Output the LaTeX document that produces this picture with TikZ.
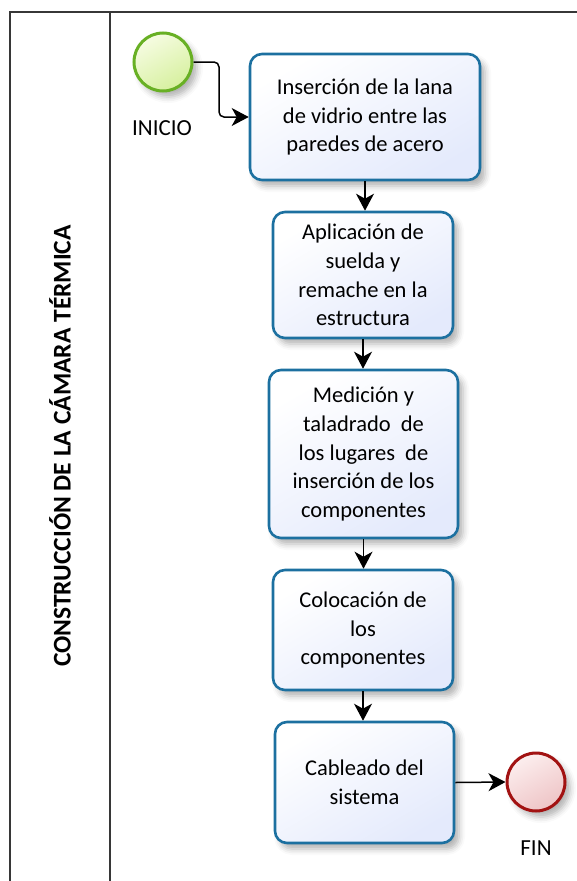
\documentclass[tikz,border=0pt]{standalone}
\usepackage{fontspec}
\setmainfont{Carlito}
\usetikzlibrary{arrows.meta,shadows.blur}
\definecolor{boxborder}{RGB}{28,112,160}
\definecolor{boxfill}{RGB}{228,234,252}
\definecolor{startborder}{RGB}{104,176,36}
\definecolor{startlight}{RGB}{246,252,226}
\definecolor{startfill}{RGB}{214,240,158}
\definecolor{endborder}{RGB}{162,18,18}
\definecolor{endlight}{RGB}{252,238,238}
\definecolor{endfill}{RGB}{238,196,198}
\definecolor{poolline}{RGB}{55,55,55}
\begin{document}
\begin{tikzpicture}[x=1pt,y=-1pt,
  softshadow/.style={blur shadow={shadow xshift=5pt, shadow yshift=-6pt, shadow blur radius=6pt, shadow opacity=30}},
  task/.style={rectangle, draw=boxborder, line width=2.6pt, rounded corners=12pt, align=center,
    font=\fontsize{22.5}{28.8}\selectfont, top color=white, bottom color=boxfill, shading angle=30,
    inner sep=0pt, softshadow},
  event/.style={circle, line width=3pt, minimum size=58pt, inner sep=0pt, softshadow},
  lbl/.style={font=\fontsize{23}{26}\selectfont},
  flow/.style={draw=black, line width=1.5pt, -{Stealth[length=17pt, width=18pt, inset=5pt]}},
  pool/.style={draw=poolline, line width=1.8pt}
]
\useasboundingbox (0,0) rectangle (576,881);
% pool and lane
\draw[pool] (580,12) -- (10,12) -- (10,885);
\draw[pool] (110,12) -- (110,885);
\node[rotate=90, font=\bfseries\fontsize{25.5}{27}\selectfont] (title) at (60,446) {CONSTRUCCIÓN DE LA CÁMARA TÉRMICA};
% events
\node[event, draw=startborder, top color=startlight, bottom color=startfill, shading angle=30] (start) at (163,62) {};
\node[lbl] (startlbl) at (162,128) {INICIO};
\node[event, draw=endborder, top color=endlight, bottom color=endfill, shading angle=30] (end) at (536,782) {};
\node[lbl] (endlbl) at (536,848) {FIN};
% tasks
\node[task, minimum width=230pt, minimum height=126pt] (t1) at (365,117) {Inserción de la lana\\de vidrio entre las\\paredes de acero};
\node[task, minimum width=180pt, minimum height=126pt] (t2) at (363,275) {Aplicación de\\suelda y\\remache en la\\estructura};
\node[task, minimum width=189pt, minimum height=168pt] (t3) at (363.5,454) {Medición y\\taladrado\ \ de\\los lugares\ \ de\\inserción de los\\componentes};
\node[task, minimum width=180pt, minimum height=120pt] (t4) at (363,630) {Colocación de\\los\\componentes};
\node[task, minimum width=179pt, minimum height=121pt] (t5) at (364.5,782.5) {Cableado del\\sistema};
% flows
\coordinate (bend) at (219,117);
\draw[flow, rounded corners=5pt] (start.east) -| (bend) -- (t1.west);
\draw[flow] (t1.south) -- (t1.south |- t2.north);
\draw[flow] (t2.south) -- (t2.south |- t3.north);
\draw[flow] (t3.south) -- (t3.south |- t4.north);
\draw[flow] (t4.south) -- (t4.south |- t5.north);
\draw[flow] (t5.east) -- (end.west);
\end{tikzpicture}
\end{document}
